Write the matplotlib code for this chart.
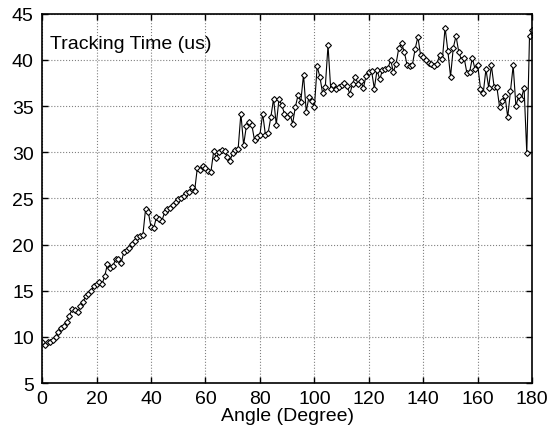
import numpy as np
import matplotlib
matplotlib.use('Agg')
import matplotlib.pyplot as plt

plt.rcParams['font.family'] = ['Liberation Sans', 'DejaVu Sans']

# Ángulo en grados (0..180, paso 1)
angles = np.arange(0, 181, 1)

# Tiempo de seguimiento (us)
tracking_time = [
    9.4, 9.1, 9.5, 9.4, 9.7, 10.0, 10.5, 11.0, 11.2, 11.6,
    12.3, 13.0, 12.9, 12.7, 13.3, 13.8, 14.4, 14.7, 15.0, 15.5,
    15.7, 15.9, 15.7, 16.6, 17.9, 17.5, 17.7, 18.4, 18.4, 18.0,
    19.2, 19.4, 19.6, 20.1, 20.4, 20.8, 20.9, 21.0, 23.9, 23.5,
    21.9, 21.8, 23.0, 22.8, 22.6, 23.5, 23.9, 24.0, 24.3, 24.6,
    24.9, 25.0, 25.3, 25.6, 25.7, 26.2, 25.8, 28.3, 28.1, 28.5,
    28.3, 28.0, 27.9, 30.1, 29.4, 30.0, 30.3, 30.1, 29.5, 29.1,
    29.9, 30.3, 30.4, 34.2, 30.8, 32.8, 33.3, 33.0, 31.3, 31.7,
    31.9, 34.2, 31.9, 32.1, 33.8, 35.8, 33.0, 35.8, 35.1, 34.2,
    33.8, 34.2, 33.1, 34.9, 36.2, 35.5, 38.4, 34.4, 36.0, 35.6,
    34.9, 39.3, 38.2, 36.4, 37.1, 41.6, 36.8, 37.3, 36.8, 37.1,
    37.3, 37.5, 37.2, 36.3, 37.4, 38.2, 37.4, 37.7, 37.0, 38.3,
    38.7, 38.8, 36.9, 38.9, 37.9, 38.9, 39.0, 39.1, 40.0, 38.7,
    39.6, 41.3, 41.8, 40.9, 39.5, 39.3, 39.5, 41.2, 42.5, 40.5,
    40.3, 40.0, 39.7, 39.6, 39.3, 39.6, 40.5, 40.1, 43.5, 41.0,
    38.2, 41.3, 42.6, 40.9, 40.0, 40.2, 38.6, 38.7, 40.2, 39.0,
    39.4, 36.9, 36.4, 39.0, 37.0, 39.4, 37.1, 37.1, 34.9, 35.6,
    36.1, 33.8, 36.6, 39.4, 35.0, 36.1, 35.8, 37.0, 29.9, 42.6,
    43.2,
]

xticks = list(range(0, 181, 20))
yticks = list(range(5, 46, 5))

fig = plt.figure(figsize=(5.47, 4.35), dpi=100)
ax = fig.add_axes([0.077, 0.117, 0.896, 0.849])

ax.plot(angles, tracking_time, color='black', linewidth=0.8,
        marker='D', markersize=3.0, markerfacecolor='white',
        markeredgecolor='black', markeredgewidth=0.8)

ax.set_xlim(0, 180)
ax.set_ylim(5, 45)
ax.set_xticks(xticks)
ax.set_yticks(yticks)
ax.tick_params(direction='in', top=True, right=True, labelsize=14,
               length=4, width=1)
ax.tick_params(axis='x', pad=5)
ax.tick_params(axis='y', pad=6)
ax.grid(True, linestyle=':', color='gray', linewidth=0.8)
for s in ax.spines.values():
    s.set_linewidth(1.2)

ax.set_xlabel('Angle (Degree)', fontsize=14, labelpad=0)
ax.text(0.016, 0.919, 'Tracking Time (us)', transform=ax.transAxes,
        fontsize=14, ha='left', va='center')

fig.savefig('out.png', dpi=100)
